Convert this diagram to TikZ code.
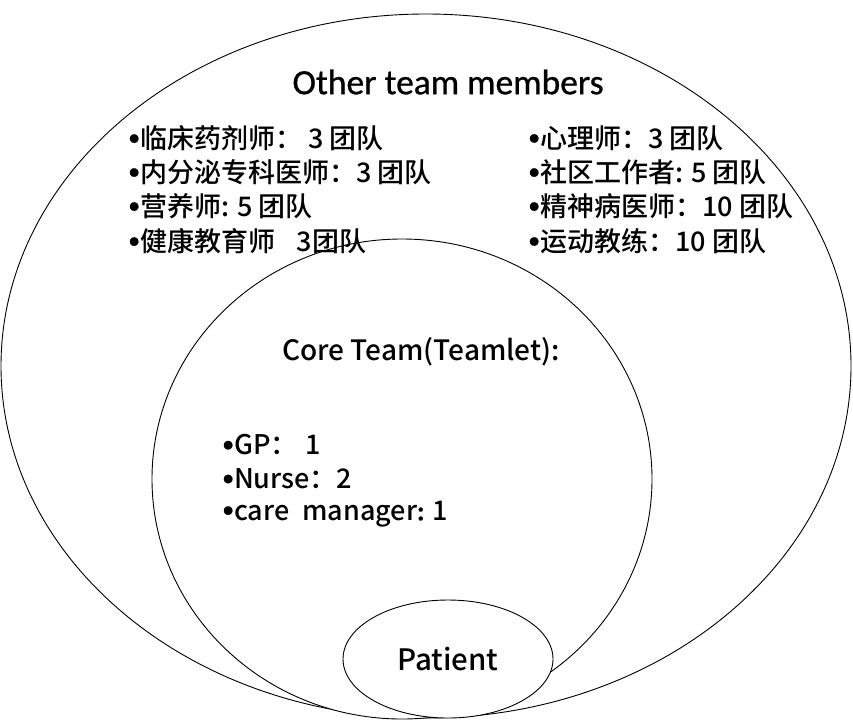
\documentclass[tikz,border=0pt]{standalone}
\usepackage{fontspec}
\setmainfont{Carlito}
\newfontfamily\cjk{Noto Sans CJK SC}[BoldFont={Noto Sans CJK SC Medium}]
\newfontfamily\latinhead[FakeBold=0.8]{Carlito}
\newcommand{\bul}{\raisebox{3pt}{\latinhead\mdseries\fontsize{24}{26}\selectfont •}}
\begin{document}
\begin{tikzpicture}[x=1pt,y=-1pt,
  ring/.style={draw=black,line width=0.9pt},
  item/.style={anchor=west,inner sep=0pt,font=\cjk\bfseries\fontsize{27}{30}\selectfont},
  heading/.style={inner sep=0pt}]
\useasboundingbox (0,0) rectangle (853,723);
\draw[ring] (426,366) ellipse [x radius=425, y radius=352];
\draw[ring, fill=white] (402,479) ellipse [x radius=250, y radius=240];
\draw[ring, fill=white] (448,659) ellipse [x radius=105, y radius=59];
\node[heading,font=\latinhead\fontsize{35.5}{40}\selectfont] (other) at (448,82) {Other team members};
\node[item] (l1) at (128,138) {\bul 临床药剂师： 3 团队};
\node[item] (l2) at (128,172) {\bul 内分泌专科医师：3 团队};
\node[item] (l3) at (128,206) {\bul 营养师: 5 团队};
\node[item] (l4) at (128,241) {\bul 健康教育师\hspace{0.8em}3团队};
\node[item] (r1) at (528,138) {\bul 心理师：3 团队};
\node[item] (r2) at (528,172) {\bul 社区工作者: 5 团队};
\node[item] (r3) at (528,206) {\bul 精神病医师：10 团队};
\node[item] (r4) at (528,241) {\bul 运动教练：10 团队};
\node[heading,font=\cjk\bfseries\fontsize{28}{32}\selectfont] (core) at (421,352) {Core Team(Teamlet):};
\node[item] (c1) at (222,445) {\bul GP：\hspace{0.3em}1};
\node[item] (c2) at (222,479) {\bul Nurse：2};
\node[item] (c3) at (222,514) {\bul care\hspace{0.25em} manager{\latinhead\bfseries:} 1};
\node[heading,font=\cjk\bfseries\fontsize{29.5}{34}\selectfont] (patient) at (448,659) {Patient};
\end{tikzpicture}
\end{document}
